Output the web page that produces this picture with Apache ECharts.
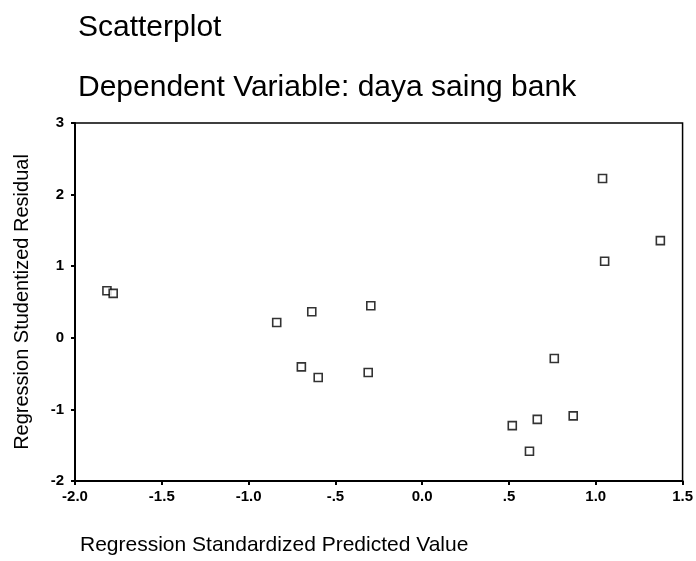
<!DOCTYPE html>
<html>
<head>
<meta charset="utf-8" />
<title>Scatterplot</title>
<script src="https://cdn.jsdelivr.net/npm/echarts@6.0.0/dist/echarts.min.js"></script>
<style>
body { margin: 0; background: #fff; }
</style>
</head>
<body>
<div id="main" style="width: 696px;height:561px;"></div>
<script type="text/javascript">
// data
var predicted = [-1.816, -1.780, -0.838, -0.636, -0.696, -0.599, -0.296, -0.311,
  1.039, 1.372, 1.051, 0.761, 0.519, 0.663, 0.870, 0.618];
var residual = [0.657, 0.620, 0.214, 0.364, -0.406, -0.555, 0.448, -0.485,
  2.224, 1.357, 1.070, -0.290, -1.226, -1.140, -1.090, -1.585];
var xTickLabels = { '-2': '-2.0', '-1.5': '-1.5', '-1': '-1.0', '-0.5': '-.5', '0': '0.0', '0.5': '.5', '1': '1.0', '1.5': '1.5' };

var myChart = echarts.init(document.getElementById('main'));

var points = predicted.map(function (x, i) { return [x, residual[i]]; });

var option = {
  backgroundColor: '#fff',
  animation: false,
  textStyle: { fontFamily: 'Liberation Sans, Arial, sans-serif' },
  title: [
    {
      text: 'Scatterplot',
      left: 73, top: 8,
      textStyle: { fontSize: 30, fontWeight: 'normal', color: '#000' }
    },
    {
      text: 'Dependent Variable: daya saing bank',
      left: 73, top: 68,
      textStyle: { fontSize: 30, fontWeight: 'normal', color: '#000' }
    }
  ],
  grid: {
    left: 75, right: 13, top: 123, bottom: 80,
    show: true, borderColor: '#000', borderWidth: 1.5
  },
  xAxis: {
    type: 'value',
    min: -2, max: 1.5, interval: 0.5,
    name: 'Regression Standardized Predicted Value',
    nameLocation: 'start',
    nameGap: 0,
    nameTextStyle: { fontSize: 21, color: '#000', align: 'left', verticalAlign: 'top', padding: [54, 0, 0, 5] },
    axisLine: { show: true, onZero: false, lineStyle: { color: '#000', width: 2 } },
    axisTick: { show: true, length: 4, lineStyle: { color: '#000', width: 2 } },
    splitLine: { show: false },
    axisLabel: {
      color: '#000', fontSize: 15, fontWeight: 'bold', margin: 8,
      formatter: function (v) { return xTickLabels[String(v)]; }
    }
  },
  yAxis: {
    type: 'value',
    min: -2, max: 3, interval: 1,
    name: 'Regression Studentized Residual',
    nameLocation: 'middle',
    nameGap: 43,
    nameTextStyle: { fontSize: 20, color: '#000' },
    axisLine: { show: true, onZero: false, lineStyle: { color: '#000', width: 2 } },
    axisTick: { show: true, length: 4, lineStyle: { color: '#000', width: 2 } },
    splitLine: { show: false },
    axisLabel: { color: '#000', fontSize: 15, fontWeight: 'bold', margin: 11 }
  },
  series: [
    {
      type: 'scatter',
      data: points,
      symbol: 'rect',
      symbolSize: 8,
      itemStyle: { color: '#fff', borderColor: '#000', borderWidth: 1.6 }
    }
  ]
};

myChart.setOption(option);
</script>
</body>
</html>
